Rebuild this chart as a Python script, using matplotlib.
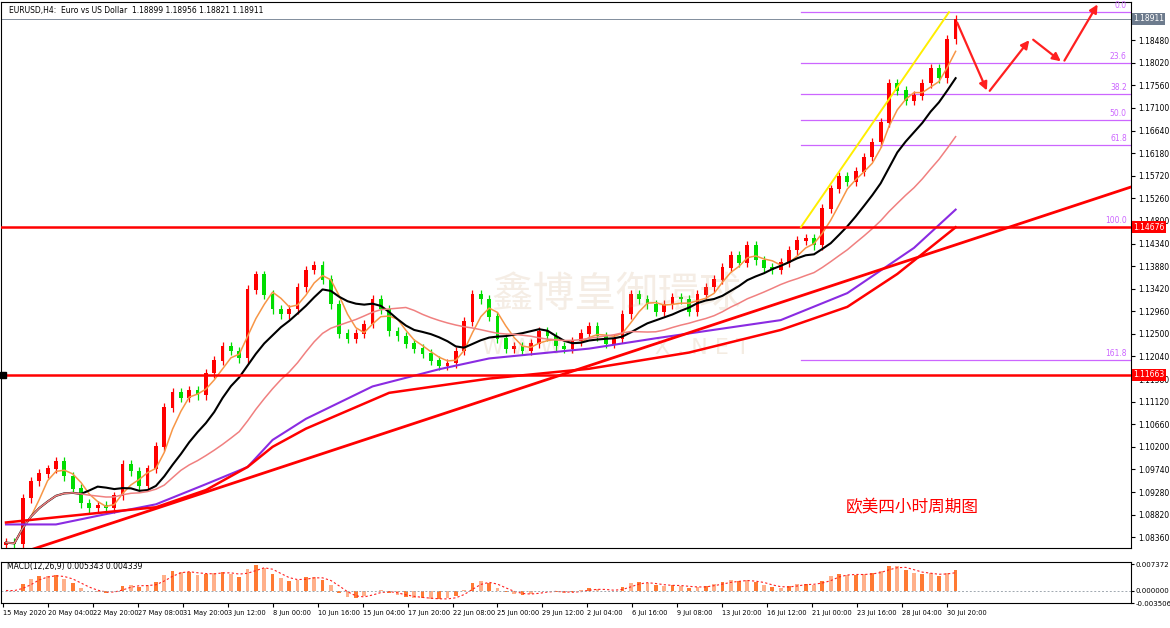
import numpy as np
import pandas as pd
import matplotlib.pyplot as plt
from matplotlib.patches import FancyArrowPatch

plt.rcParams['font.family'] = ['DejaVu Sans', 'Noto Sans CJK SC']

# 12h bars (close prices)
closes = [1.0825, 1.0822, 1.0915, 1.0950, 1.0965, 1.0975, 1.0990, 1.0960, 1.0935, 1.0905,
          1.0895, 1.0900, 1.0895, 1.0920, 1.0985, 1.0970, 1.0940, 1.0975, 1.1020, 1.1100,
          1.1130, 1.1120, 1.1135, 1.1125, 1.1170, 1.1195, 1.1225, 1.1215, 1.1200, 1.1340,
          1.1370, 1.1330, 1.1300, 1.1290, 1.1300, 1.1345, 1.1380, 1.1390, 1.1360, 1.1310,
          1.1250, 1.1240, 1.1250, 1.1270, 1.1320, 1.1300, 1.1255, 1.1245, 1.1230, 1.1220,
          1.1210, 1.1195, 1.1185, 1.1190, 1.1215, 1.1275, 1.1330, 1.1320, 1.1285, 1.1240,
          1.1220, 1.1225, 1.1215, 1.1230, 1.1255, 1.1245, 1.1225, 1.1220, 1.1235, 1.1250,
          1.1265, 1.1245, 1.1230, 1.1240, 1.1290, 1.1330, 1.1320, 1.1310, 1.1295, 1.1310,
          1.1325, 1.1320, 1.1295, 1.1330, 1.1345, 1.1360, 1.1385, 1.1410, 1.1395, 1.1430,
          1.1400, 1.1385, 1.1380, 1.1395, 1.1420, 1.1440, 1.1445, 1.1430, 1.1505, 1.1545,
          1.1570, 1.1560, 1.1580, 1.1610, 1.1640, 1.1680, 1.1760, 1.1745, 1.1725, 1.1735,
          1.1760, 1.1790, 1.1770, 1.1850, 1.1891]

# long moving averages (bar index, price)
ma_purple_x = [0, 6, 12, 18, 24, 29, 32, 36, 44, 52, 58, 70, 78, 93, 101, 109, 114]
ma_purple_y = [1.0862, 1.0862, 1.0883, 1.0903, 1.0944, 1.0979, 1.1034, 1.1077, 1.1143,
               1.1178, 1.1200, 1.1220, 1.1241, 1.1278, 1.1333, 1.1425, 1.1503]
ma_red_x = [0, 12, 18, 24, 29, 32, 36, 46, 58, 70, 82, 93, 101, 107, 114]
ma_red_y = [1.0866, 1.0887, 1.0897, 1.0932, 1.0979, 1.1020, 1.1057, 1.1130, 1.1159,
            1.1179, 1.1212, 1.1258, 1.1305, 1.1372, 1.1467]

fib_levels = [0.0, 23.6, 38.2, 50.0, 61.8, 100.0, 161.8]
fib_high, fib_low = 1.1905, 1.14676
hlines = [1.14676, 1.11663]
right_ticks = [1.18480, 1.18020, 1.17560, 1.17100, 1.16640, 1.16180, 1.15720, 1.15260,
               1.14800, 1.14340, 1.13880, 1.13420, 1.12960, 1.12500, 1.12040, 1.11580,
               1.11120, 1.10660, 1.10200, 1.09740, 1.09280, 1.08820, 1.08360]
date_labels = ['15 May 2020', '20 May 04:00', '22 May 20:00', '27 May 08:00', '31 May 20:00',
               '3 Jun 12:00', '8 Jun 00:00', '10 Jun 16:00', '15 Jun 04:00', '17 Jun 20:00',
               '22 Jun 08:00', '25 Jun 00:00', '29 Jun 12:00', '2 Jul 04:00', '6 Jul 16:00',
               '9 Jul 08:00', '13 Jul 20:00', '16 Jul 12:00', '21 Jul 00:00', '23 Jul 16:00',
               '28 Jul 04:00', '30 Jul 20:00']

c = pd.Series(closes)
o = c.shift(1).fillna(c.iloc[0] - 0.0005)
n = len(c)
idx = np.arange(n)

W, H = 1170, 628
fig = plt.figure(figsize=(W / 100, H / 100), dpi=100)
fig.patch.set_facecolor('white')


def px_x(p):
    return p / W


def px_y(p):
    return 1 - p / H


# pixel -> data helpers: bar i at x = 5 + 8.33 i ; price = 1.14676 - (y-227)*0.0002036
bar_px = 8.33
def y2p(y):
    return 1.14676 - (y - 227) * 0.0002036

ax = fig.add_axes([px_x(1), px_y(548), px_x(1130), (548 - 2) / H])
ax.set_xlim(-5 / bar_px, 1125 / bar_px)
ax.set_ylim(y2p(548), y2p(2))

# candles
up = c >= o
body_lo = np.minimum(o, c)
body_hi = np.maximum(o, c)
wick = 0.0009
colors = np.where(up, '#ff0000', '#00dd00')
ax.vlines(idx, body_lo - wick, body_hi + wick, colors=colors, lw=0.9, zorder=3)
ax.bar(idx, body_hi - body_lo + 0.0001, bottom=body_lo, width=0.45, color=colors, zorder=3)

# short moving averages from closes
ax.plot(idx, c.rolling(4, min_periods=1).mean(), color='#f79646', lw=1.1, zorder=4)
ax.plot(idx, c.rolling(10, min_periods=1).mean(), color='black', lw=1.5, zorder=4)
ax.plot(idx, c.rolling(20, min_periods=1).mean(), color='#f08080', lw=1.1, zorder=4)
ax.plot(ma_purple_x, ma_purple_y, color='#8a2be2', lw=1.5, zorder=4)
ax.plot(ma_red_x, ma_red_y, color='#ff0000', lw=1.8, zorder=4)

# trendline
ax.plot([0, 1125 / bar_px], [y2p(558), y2p(187)], color='#ff0000', lw=2, zorder=5)

for h in hlines:
    ax.axhline(h, color='#ff0000', lw=1.8, zorder=5)
ax.plot(-0.4, hlines[1], 's', color='black', ms=4, clip_on=False, zorder=6)

# fibonacci
fx0, fx1 = (800 - 5) / bar_px, 1125 / bar_px
for lv in fib_levels:
    p = fib_high - (fib_high - fib_low) * lv / 100
    ax.plot([fx0, fx1], [p, p], color='#cc66ff', lw=0.9, zorder=2)
    ax.text(fx1 - 0.5, p + 0.0004, f'{lv:.1f}', color='#cc66ff', fontsize=5.5,
            ha='right', va='bottom')
ax.plot([fx0, (948 - 5) / bar_px], [fib_low, fib_high], color='#ffee00', lw=1.4, zorder=5)

# forecast arrows
pts = [(955, 20), (987, 93), (1030, 38), (1062, 63), (1098, 2)]
for (x0, y0), (x1, y1) in zip(pts[:-1], pts[1:]):
    ax.add_patch(FancyArrowPatch(((x0 - 5) / bar_px, y2p(y0)), ((x1 - 5) / bar_px, y2p(y1)),
                                 arrowstyle='-|>', mutation_scale=12, color='#ff2020', lw=1.6,
                                 zorder=6, clip_on=False))

# watermark and note
ax.text(610 / bar_px, y2p(295), '鑫博皇御環球', fontsize=30, color='#c9a070', alpha=0.18,
        ha='center', va='center', family=['Noto Sans CJK TC', 'DejaVu Sans'])
ax.text(610 / bar_px, y2p(348), 'W W W .           X . N E T', fontsize=16, color='#c9a070',
        alpha=0.2, ha='center', va='center')
ax.text(840 / bar_px, y2p(508), '欧美四小时周期图', fontsize=12, color='#ff0000',
        va='center', family=['Noto Sans CJK SC', 'DejaVu Sans'])
ax.text(3 / bar_px, y2p(10), 'EURUSD,H4:  Euro vs US Dollar  1.18899 1.18956 1.18821 1.18911',
        fontsize=5.5, va='center')

ax.yaxis.tick_right()
ax.set_yticks(right_ticks)
ax.set_yticklabels([f'{t:.5f}' for t in right_ticks], fontsize=5.5)
ax.set_xticks([])
ax.tick_params(axis='y', length=3, pad=2)
for h, col in [(1.18911, '#6d7b8d'), (1.14676, '#ff0000'), (1.11663, '#ff0000')]:
    ax.text(1.002, h, f'{h:.5f}', transform=ax.get_yaxis_transform(), fontsize=5.5,
            color='white', va='center', ha='left', zorder=10,
            bbox=dict(boxstyle='square,pad=0.15', fc=col, ec='none'))
ax.axhline(1.18911, color='#6d7b8d', lw=0.6)

# MACD panel
ema_fast = c.ewm(span=4, adjust=False).mean()
ema_slow = c.ewm(span=9, adjust=False).mean()
macd = ema_fast - ema_slow
signal = macd.rolling(3, min_periods=1).mean()
mx = fig.add_axes([px_x(1), px_y(603), px_x(1130), (603 - 562) / H])
mx.set_xlim(ax.get_xlim())
mx.set_ylim(-0.003506, 0.0080)
mx.bar(idx, macd, width=0.45, color=np.where(idx % 2 == 0, '#ff7a33', '#ffb08a'))
mx.plot(idx, signal, color='#ff2020', lw=0.8, ls=(0, (2, 2)))
mx.axhline(0, color='#a0a8b0', lw=0.7, ls=(0, (2, 2)))
mx.text(1 / bar_px, 0.0066, 'MACD(12,26,9) 0.005343 0.004339', fontsize=5.5, va='center')
mx.yaxis.tick_right()
mx.set_yticks([0.007372, 0.0, -0.003506])
mx.set_yticklabels(['0.007372', '0.000000', '-0.003506'], fontsize=5)
mx.tick_params(axis='y', length=2, pad=1)
tick_pos = [(p - 5) / bar_px for p in np.linspace(2, 946, len(date_labels))]
mx.set_xticks(tick_pos)
mx.set_xticklabels(date_labels, fontsize=4.8, ha='left')
mx.tick_params(axis='x', length=3, pad=2)

fig.savefig('out.png', dpi=100)
